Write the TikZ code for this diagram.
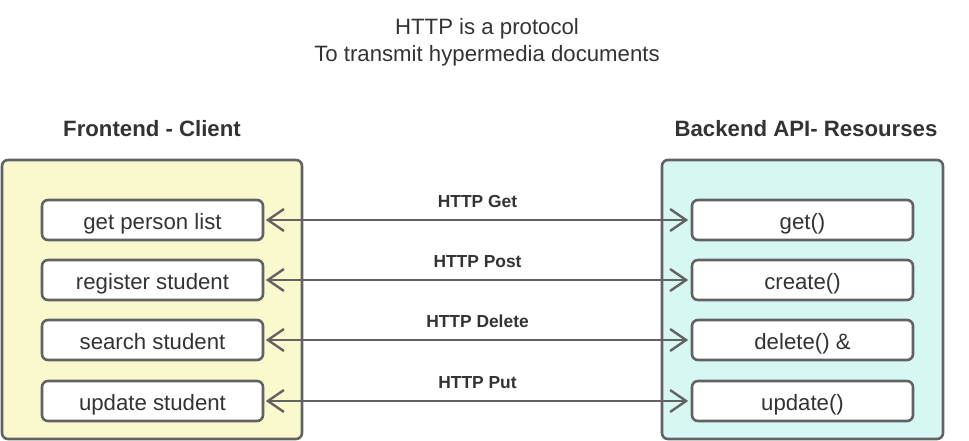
\documentclass[tikz,border=0pt]{standalone}
\usepackage{fontspec}
\setmainfont{Liberation Sans}
\usetikzlibrary{arrows.meta}
\definecolor{ln}{HTML}{626262}
\definecolor{tx}{HTML}{333333}
\definecolor{yel}{HTML}{FAF8CD}
\definecolor{cyn}{HTML}{D7F8F2}
\begin{document}
\begin{tikzpicture}[x=1pt,y=-1pt,
  outerbox/.style={draw=ln,line width=2.6pt,rounded corners=6pt,minimum height=279pt,inner sep=0pt},
  itembox/.style={draw=ln,fill=white,line width=2.6pt,rounded corners=6pt,minimum width=221pt,minimum height=40pt,inner sep=0pt,text height=18pt,text depth=0pt,text=tx,font=\fontsize{22.2}{26}\selectfont},
  hdr/.style={text=tx,anchor=base,font=\fontsize{22.2}{26}\selectfont\bfseries},
  ttl/.style={text=tx,anchor=base,font=\fontsize{22.2}{26}\selectfont},
  lbl/.style={text=tx,inner sep=0pt,text depth=0pt,font=\fontsize{17.4}{20}\selectfont\bfseries},
  conn/.style={draw=ln,line width=2.4pt,{Straight Barb[length=16pt,width=22pt,line width=2.4pt]}-{Straight Barb[length=16pt,width=22pt,line width=2.4pt]},shorten <=1.5pt,shorten >=2.5pt}]
\useasboundingbox (0,0) rectangle (969,441);
\node[ttl] (t1) at (487,35) {HTTP is a protocol};
\node[ttl] (t2) at (487,62) {To transmit hypermedia documents};
\node[hdr] (hl) at (152,136) {Frontend - Client};
\node[hdr] (hr) at (806,136) {Backend API- Resourses};
\node[outerbox,fill=yel,minimum width=300pt] (L) at (152,299.5) {};
\node[outerbox,fill=cyn,minimum width=281pt] (R) at (802.5,299.5) {};
\node[itembox] (l1) at (152.5,220) {get person list};
\node[itembox] (l2) at (152.5,280) {register student};
\node[itembox] (l3) at (152.5,340) {search student};
\node[itembox] (l4) at (152.5,401) {update student};
\node[itembox] (r1) at (802.5,220) {get()};
\node[itembox] (r2) at (802.5,280) {create()};
\node[itembox] (r3) at (802.5,340) {delete() \&};
\node[itembox] (r4) at (802.5,401) {update()};
\draw[conn] (l1) -- node[lbl,above=11pt] {HTTP Get} (r1);
\draw[conn] (l2) -- node[lbl,above=11pt] {HTTP Post} (r2);
\draw[conn] (l3) -- node[lbl,above=11pt] {HTTP Delete} (r3);
\draw[conn] (l4) -- node[lbl,above=11pt] {HTTP Put} (r4);
\end{tikzpicture}
\end{document}
